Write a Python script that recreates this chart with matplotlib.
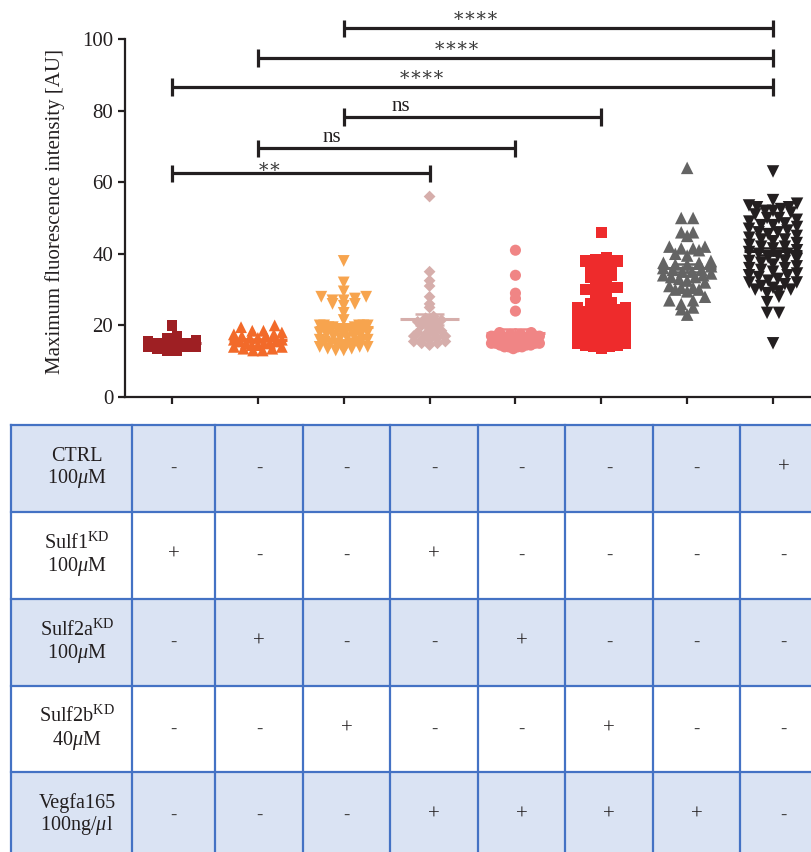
import numpy as np
import matplotlib
matplotlib.use('Agg')
import matplotlib.pyplot as plt
from matplotlib.patches import Rectangle

plt.rcParams['font.family'] = ['Liberation Serif', 'DejaVu Serif']
plt.rcParams['mathtext.fontset'] = 'custom'
plt.rcParams['mathtext.rm'] = 'Liberation Serif'
plt.rcParams['mathtext.it'] = 'Liberation Serif:italic'
plt.rcParams['mathtext.bf'] = 'Liberation Serif:bold'

# ---------------- data ----------------
g0 = [20, 17, 16.5, 16, 15.5, 15, 15, 15, 15, 14.5, 14.5, 14, 14, 14, 13.5, 13, 13]
g1 = [20, 19.5, 18.5, 18.5, 18, 17.5, 17.5, 17, 17, 16.5, 16.5, 16, 16, 15.5, 15.5,
      15, 15, 15, 14.5, 14.5, 14, 14, 13.5, 13.5, 13, 13]
g2 = [38, 32, 29.5, 28, 28, 27.5, 27, 27, 26, 26, 25.5, 23.5, 21.5, 20, 20, 20, 20, 20,
      19.5, 19.5, 19.5, 19, 19, 18.5, 18.5, 18, 18, 17.5, 17.5, 17, 17, 16.5, 16.5, 16,
      16, 16, 15.5, 15.5, 15, 15, 15, 14.5, 14.5, 14, 14, 14, 13.5, 13.5, 13, 13]
g3 = [56, 35, 32.5, 31, 28, 26, 25, 22.5, 22, 21.5, 21, 21, 20.5, 20, 20, 19, 18.5, 18,
      18, 17.5, 17, 17, 16.5, 16, 16, 15.5, 15.5, 15, 15, 14.5]
g4 = [41, 34, 29, 27.5, 24, 18, 18, 17.5, 17.5, 17, 17, 17, 17, 16.5, 16.5, 16.5, 16, 16,
      16, 16, 15.5, 15.5, 15.5, 15, 15, 15, 15, 14.5, 14.5, 14.5, 14, 14, 14, 14, 13.5]
g5 = [46, 39, 38.5, 38, 38, 37.5, 37.5, 36.5, 36, 35.5, 34, 33.5, 33, 32, 31, 30.5, 30,
      29.5, 29, 28.5, 27, 26.5, 26, 25.5, 25, 25, 24.5, 24, 23.5, 23.5, 23, 23, 22.5, 22,
      22, 21.5, 21.5, 21, 21, 20.5, 20, 20, 19.5, 19.5, 19, 19, 18.5, 18.5, 18, 18, 17.5,
      17.5, 17, 17, 16.5, 16.5, 16, 16, 15.5, 15.5, 15, 15, 14.5, 14.5, 14, 14, 13.5]
g6 = [64, 50, 50, 46, 46, 45, 42, 42, 41.5, 41.5, 41, 40, 39.5, 38, 37.5, 37.5, 37, 37,
      36.5, 36, 35.5, 35.5, 35, 35, 34.5, 34, 34, 33.5, 33.5, 33, 32.5, 32, 31, 30.5, 30.5,
      30, 30, 29.5, 28, 27, 27, 26, 25, 24.5, 23]
g7 = [63, 55, 54, 53.5, 53, 53, 52.5, 52, 52, 51.5, 51, 50, 50, 49.5, 49, 48.5, 48, 48,
      47.5, 47, 46.5, 46, 46, 45.5, 45, 44.5, 44, 44, 43.5, 43, 42.5, 42, 42, 41.5, 41,
      40.5, 40, 40, 39.5, 39, 38.5, 38, 38, 37.5, 37, 36.5, 36, 36, 35.5, 35, 34.5, 34,
      34, 33.5, 33, 32.5, 32, 32, 31.5, 31, 30.5, 30, 30, 29.5, 29, 28, 26.5, 23.5, 23.5, 15]

groups = [g0, g1, g2, g3, g4, g5, g6, g7]
colors = ['#9E1F23', '#F26A2A', '#F7A44E', '#D6AEAB', '#F08585', '#EE2B2C', '#646464', '#231F20']
markers = ['s', '^', 'v', 'D', 'o', 's', '^', 'v']
msizes = [7.5, 8.5, 8.5, 6.0, 8.0, 8.0, 9.0, 9.0]

y_ticks = [0, 20, 40, 60, 80, 100]
y_label = 'Maximum fluorescence intensity [AU]'

comparisons = [(0, 3, '**'), (1, 4, 'ns'), (2, 5, 'ns'), (0, 7, '****'), (1, 7, '****'), (2, 7, '****')]
bar_heights = [62.5, 69.5, 78.2, 86.6, 94.7, 103.0]
label_x = [1.13, 1.86, 2.66, 2.91, 3.31, 3.53]

row_labels = ['CTRL\n100$\\mu$M', 'Sulf1$^{\\rm KD}$\n100$\\mu$M', 'Sulf2a$^{\\rm KD}$\n100$\\mu$M',
              'Sulf2b$^{\\rm KD}$\n40$\\mu$M', 'Vegfa165\n100ng/$\\mu$l']
table_values = [
    ['-', '-', '-', '-', '-', '-', '-', '+'],
    ['+', '-', '-', '+', '-', '-', '-', '-'],
    ['-', '+', '-', '-', '+', '-', '-', '-'],
    ['-', '-', '+', '-', '-', '+', '-', '-'],
    ['-', '-', '-', '+', '+', '+', '+', '-'],
]

# ---------------- figure ----------------
W, H = 812, 852
fig = plt.figure(figsize=(W / 100, H / 100), dpi=100)

x_px0, x_step = 172, 85.86
ax_left, ax_right = 125, 812
y0_px, y100_px = 397, 39
ppu = (y0_px - y100_px) / 100.0
ymax = 110
ax = fig.add_axes([ax_left / W, (H - y0_px) / H, (ax_right - ax_left) / W, ymax * ppu / H])
ax.set_xlim(-(x_px0 - ax_left) / x_step, (ax_right - x_px0) / x_step)
ax.set_ylim(0, ymax)
ax.patch.set_alpha(0)


def row_swarm(vals, ms_px, xs, ys, max_w=48.0):
    """Prism-like layout: bin values into rows, spread each row symmetrically."""
    vals = np.asarray(vals, float)
    row_h = ms_px * 0.62
    bins = np.floor(vals * ys / row_h).astype(int)
    offs = np.zeros(len(vals))
    for b in np.unique(bins):
        idx = np.where(bins == b)[0]
        idx = idx[np.argsort(vals[idx])]
        n = len(idx)
        if n == 1:
            continue
        sp = min(ms_px * 0.95, max_w / (n - 1))
        pos = (np.arange(n) - (n - 1) / 2.0) * sp
        order = np.argsort(np.abs(pos), kind='stable')
        for k, j in enumerate(idx):
            offs[j] = pos[order[k]] / xs
    return offs


for i, (vals, col, mk, ms) in enumerate(zip(groups, colors, markers, msizes)):
    offs = row_swarm(vals, ms * 1.389, x_step, ppu)
    ax.scatter(i + offs, vals, marker=mk, s=ms ** 2, color=col, edgecolors='none', zorder=3)
    m = np.mean(vals)
    sem = np.std(vals, ddof=1) / np.sqrt(len(vals))
    ax.plot([i - 0.34, i + 0.34], [m, m], color=col, lw=2.2, zorder=4, solid_capstyle='butt')
    ax.plot([i, i], [m - sem, m + sem], color=col, lw=1.8, zorder=4)
    for yy in (m - sem, m + sem):
        ax.plot([i - 0.17, i + 0.17], [yy, yy], color=col, lw=1.8, zorder=4, solid_capstyle='butt')

cap = 2.4
ink = '#231F20'
for (a, b, txt), h, lx in zip(comparisons, bar_heights, label_x):
    ax.plot([a, b], [h, h], color=ink, lw=2.3, clip_on=False, solid_capstyle='butt')
    ax.plot([a, a], [h - cap, h + cap], color=ink, lw=2.3, clip_on=False, solid_capstyle='butt')
    ax.plot([b, b], [h - cap, h + cap], color=ink, lw=2.3, clip_on=False, solid_capstyle='butt')
    if txt == 'ns':
        ax.text(lx, h + 10.5 / ppu, txt, ha='center', va='center', fontsize=15, color=ink, clip_on=False)
    else:
        base_px = -3.0 if len(txt) == 2 else 3.0
        ax.text(lx, h + base_px / ppu, '\u200a'.join('*' * len(txt)), ha='center', va='baseline',
                fontsize=13.5, family=['DejaVu Serif'], color='#3a3a3a', clip_on=False)

for s in ['top', 'right']:
    ax.spines[s].set_visible(False)
for s in ['left', 'bottom']:
    ax.spines[s].set_linewidth(1.6)
    ax.spines[s].set_color(ink)
ax.spines['left'].set_bounds(0, 100)
ax.set_yticks(y_ticks)
ax.set_yticklabels([str(t) for t in y_ticks], fontsize=15, color=ink)
ax.set_xticks(range(len(groups)))
ax.set_xticklabels([])
ax.tick_params(axis='both', direction='out', width=1.6, length=5, color=ink)
ax.set_ylabel(y_label, fontsize=15, color=ink)
ax.yaxis.set_label_coords((65 - ax_left) / (ax_right - ax_left), (y0_px - 211) / (ymax * ppu))

# ---------------- table ----------------
tab = fig.add_axes([0, 0, 1, 1], zorder=-1)
tab.set_xlim(0, W)
tab.set_ylim(H, 0)
tab.axis('off')
col_edges = [11, 132, 215, 303, 390, 478, 565, 653, 740, 827]
row_edges = [425, 512, 599, 686, 772, 858]
fill = '#DAE3F3'
line_col = '#4472C4'
for r in range(len(row_labels)):
    if r % 2 == 0:
        tab.add_patch(Rectangle((col_edges[0], row_edges[r]), col_edges[-1] - col_edges[0],
                                row_edges[r + 1] - row_edges[r], facecolor=fill, edgecolor='none'))
for xe in col_edges:
    tab.plot([xe, xe], [row_edges[0], row_edges[-1]], color=line_col, lw=1.6)
for ye in row_edges:
    tab.plot([col_edges[0], col_edges[-1]], [ye, ye], color=line_col, lw=1.6)
for r, lab in enumerate(row_labels):
    yc = (row_edges[r] + row_edges[r + 1]) / 2
    tab.text(77, yc, lab, ha='center', va='center', fontsize=14.5, color=ink, linespacing=1.1)
    for c, v in enumerate(table_values[r]):
        xc = (col_edges[c + 1] + col_edges[c + 2]) / 2
        tab.text(xc, yc, v, ha='center', va='center', fontsize=15 if v == '+' else 13.5,
                 color=ink if v == '+' else '#444444')

fig.savefig('out.png', dpi=100)
